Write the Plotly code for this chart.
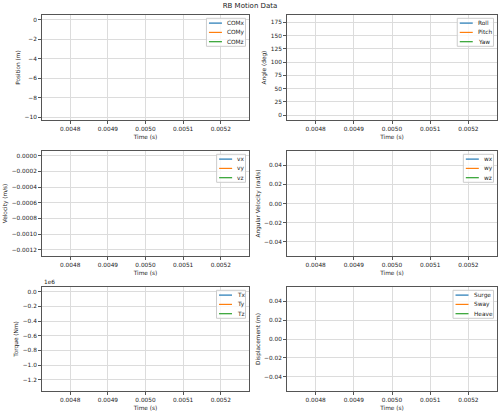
import plotly.graph_objects as go

# single sample at t = 0.005 s
time = [0.005]

com_x = [0.0]
com_y = [0.0]
com_z = [-9.81]

roll = [180.0]
pitch = [0.0]
yaw = [0.0]

vx = [0.0]
vy = [0.0]
vz = [-0.00122]

wx = [0.0]
wy = [0.0]
wz = [0.0]

tx = [0.0]
ty = [0.0]
tz = [-1.29e6]

surge = [0.0]
sway = [0.0]
heave = [0.0]

torque_ticks = [0.0, -0.2e6, -0.4e6, -0.6e6, -0.8e6, -1.0e6, -1.2e6]
torque_labels = ["0.0", "−0.2", "−0.4", "−0.6", "−0.8", "−1.0", "−1.2"]

COLORS = ["#1f77b4", "#ff7f0e", "#2ca02c"]
FONT = "DejaVu Sans"
TXT = "#222222"
FS = 5.8  # label / tick font size in px
W, H = 500, 414

# rough DejaVu Sans glyph widths (em) for sizing the legend boxes
GLYPH_W = {
    "C": .698, "O": .787, "M": .863, "R": .695, "P": .603, "Y": .611, "T": .611,
    "S": .635, "H": .752, "x": .592, "y": .592, "z": .525, "o": .612, "l": .278,
    "i": .278, "t": .392, "c": .55, "h": .634, "a": .613, "w": .818, "v": .592,
    "u": .634, "r": .411, "g": .635, "e": .615,
}


def text_width(s, size):
    return sum(GLYPH_W.get(ch, 0.6) for ch in s) * size


def mpl_range(values):
    """Mimic matplotlib autoscale (nonsingular + 5% margins)."""
    lo, hi = min(values), max(values)
    if hi - lo <= 1e-15 * max(abs(lo), abs(hi), 1e-300):
        if hi == 0:
            lo, hi = -0.05, 0.05
        else:
            lo, hi = lo - 0.05 * abs(lo), hi + 0.05 * abs(hi)
    pad = 0.05 * (hi - lo)
    return [lo - pad, hi + pad]


def px(x):
    return x / W


def py(y):
    return 1 - y / H


# plot areas in pixels (left, right, top, bottom)
cols = [(42, 249), (287, 497)]
rows = [(15, 120), (151, 256), (287, 391)]

panels = [
    ("Position (m)", [("COMx", com_x), ("COMy", com_y), ("COMz", com_z)], dict(dtick=2, tickformat="d")),
    ("Angle (deg)", [("Roll", roll), ("Pitch", pitch), ("Yaw", yaw)], dict(dtick=25, tickformat="d")),
    ("Velocity (m/s)", [("vx", vx), ("vy", vy), ("vz", vz)], dict(dtick=0.0002, tickformat=".4f")),
    ("Angular Velocity (rad/s)", [("wx", wx), ("wy", wy), ("wz", wz)], dict(dtick=0.02, tickformat=".2f")),
    ("Torque (Nm)", [("Tx", tx), ("Ty", ty), ("Tz", tz)],
     dict(tickmode="array", tickvals=torque_ticks, ticktext=torque_labels)),
    ("Displacement (m)", [("Surge", surge), ("Sway", sway), ("Heave", heave)], dict(dtick=0.02, tickformat=".2f")),
]

fig = go.Figure()
layout = {}
shapes = []
annotations = []
axis_common = dict(
    showline=True, mirror=True, linecolor="#555555", linewidth=1,
    showgrid=True, gridcolor="#dcdcdc", gridwidth=1, zeroline=False,
    ticks="outside", ticklen=3, tickwidth=1, tickcolor="#555555",
    tickfont=dict(family=FONT, size=FS, color=TXT),
    automargin=False,
)

for i, (ylabel, series, yfmt) in enumerate(panels):
    r, c = divmod(i, 2)
    left, right = cols[c]
    top, bottom = rows[r]
    n = i + 1
    xa = "x" if n == 1 else f"x{n}"
    ya = "y" if n == 1 else f"y{n}"

    all_y = [v for _, vals in series for v in vals]
    for (name, vals), color in zip(series, COLORS):
        fig.add_trace(go.Scatter(
            x=time, y=vals, name=name, mode="lines",
            line=dict(color=color, width=1.5),
            xaxis=xa, yaxis=ya, showlegend=False,
        ))

    layout["xaxis" if n == 1 else f"xaxis{n}"] = dict(
        axis_common,
        domain=[px(left), px(right)], anchor=ya,
        range=mpl_range(time), dtick=0.0001, tick0=0, tickformat=".4f",
        title=dict(text="Time (s)", font=dict(family=FONT, size=FS, color=TXT), standoff=3),
    )
    layout["yaxis" if n == 1 else f"yaxis{n}"] = dict(
        axis_common,
        domain=[py(bottom), py(top)], anchor=xa,
        range=mpl_range(all_y),
        title=dict(text=ylabel, font=dict(family=FONT, size=FS, color=TXT), standoff=3),
        **yfmt,
    )

    # matplotlib-like legend box in the upper right corner
    textw = max(text_width(name, FS) for name, _ in series)
    box_w = 2.5 + 13 + 3.5 + textw + 3
    box_r = right - 3.5
    box_l = box_r - box_w
    box_t = top + 3.3
    box_b = box_t + 28
    shapes.append(dict(
        type="rect", xref="paper", yref="paper",
        x0=px(box_l), x1=px(box_r), y0=py(box_b), y1=py(box_t),
        fillcolor="rgba(255,255,255,0.8)", line=dict(color="#cccccc", width=1),
    ))
    for k, ((name, _), color) in enumerate(zip(series, COLORS)):
        yy = box_t + 4.8 + 9.3 * k
        shapes.append(dict(
            type="line", xref="paper", yref="paper",
            x0=px(box_l + 2.5), x1=px(box_l + 15.5), y0=py(yy), y1=py(yy),
            line=dict(color=color, width=1.2),
        ))
        annotations.append(dict(
            text=name, xref="paper", yref="paper", x=px(box_l + 18.5), y=py(yy),
            xanchor="left", yanchor="middle", showarrow=False,
            font=dict(family=FONT, size=FS, color=TXT),
        ))

# matplotlib style offset text for the torque axis
annotations.append(dict(
    text="1e6", xref="paper", yref="paper", x=px(cols[0][0]), y=py(rows[2][0]),
    xanchor="left", yanchor="bottom", showarrow=False,
    font=dict(family=FONT, size=FS, color=TXT),
))

fig.update_layout(
    width=W, height=H,
    margin=dict(l=0, r=0, t=0, b=0),
    paper_bgcolor="white", plot_bgcolor="white",
    font=dict(family=FONT, size=FS, color=TXT),
    title=dict(text="RB Motion Data", x=0.5, xanchor="center", y=py(6), yanchor="middle",
               font=dict(family=FONT, size=7, color=TXT)),
    showlegend=False,
    shapes=shapes,
    annotations=annotations,
    **layout,
)

# drop the default body margin so the figure fills the window
fig.write_html("out.html", config={"displayModeBar": False},
               post_script="document.body.style.margin='0';")
